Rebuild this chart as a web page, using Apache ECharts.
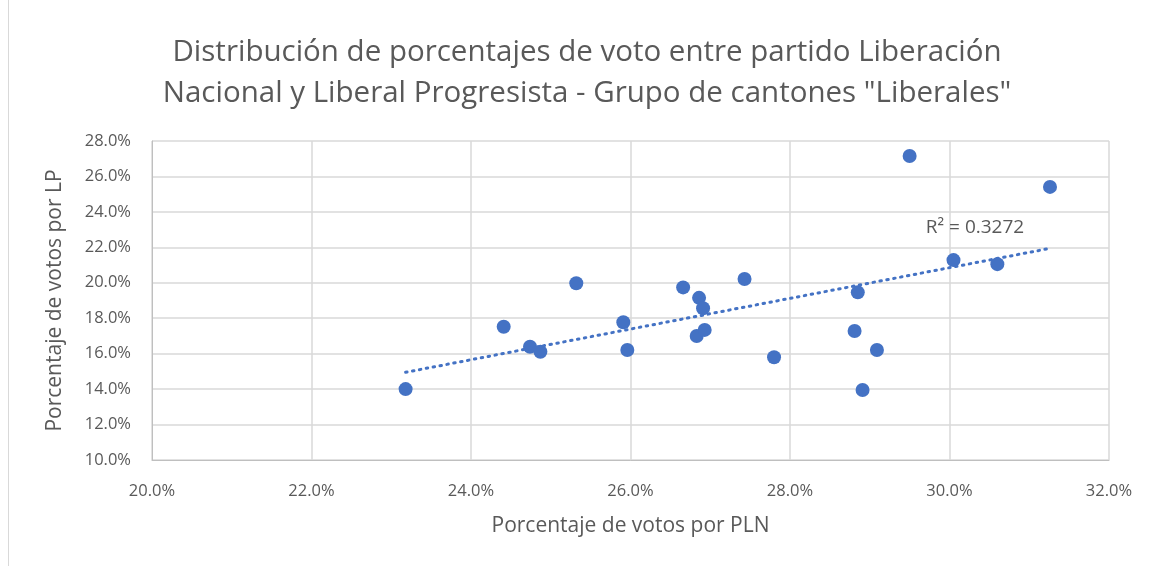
<!DOCTYPE html>
<html>
<head>
<meta charset="utf-8">
<script src="https://cdn.jsdelivr.net/npm/echarts@6/dist/echarts.min.js"></script>
<style>
  html, body { margin: 0; padding: 0; background: #fff; }
  #main { width: 1153px; height: 566px; }
</style>
</head>
<body>
<div id="main"></div>
<script>
// % de votos por PLN (x) y por LP (y), un punto por cantón
var votosPLN = [23.18, 24.41, 24.74, 24.87, 25.32, 25.91, 25.96, 26.66, 26.86, 26.91, 26.83,
  26.93, 27.43, 27.80, 29.50, 31.26, 30.05, 30.60, 28.85, 28.81, 29.09, 28.91];
var votosLP = [14.00, 17.52, 16.39, 16.11, 19.97, 17.77, 16.21, 19.74, 19.15, 18.56, 17.00,
  17.34, 20.21, 15.80, 27.15, 25.41, 21.28, 21.05, 19.46, 17.28, 16.21, 13.95];
var r2Text = 'R² = 0.3272';

var puntos = votosPLN.map(function (x, i) { return [x, votosLP[i]]; });

// tendencia lineal (minimos cuadrados)
function tendencia(xs, ys) {
  var n = xs.length, sx = 0, sy = 0, sxx = 0, sxy = 0;
  for (var i = 0; i < n; i++) {
    sx += xs[i]; sy += ys[i]; sxx += xs[i] * xs[i]; sxy += xs[i] * ys[i];
  }
  var m = (n * sxy - sx * sy) / (n * sxx - sx * sx);
  var b = (sy - m * sx) / n;
  var x0 = Math.min.apply(null, xs), x1 = Math.max.apply(null, xs);
  return [[x0, m * x0 + b], [x1, m * x1 + b]];
}
var lineaTendencia = tendencia(votosPLN, votosLP);

var fuente = '"Open Sans", "Noto Sans", sans-serif';
var gris = '#595959';

var chart = echarts.init(document.getElementById('main'));
chart.setOption({
  animation: false,
  textStyle: { fontFamily: fuente },
  title: {
    text: 'Distribución de porcentajes de voto entre partido Liberación\nNacional y Liberal Progresista - Grupo de cantones "Liberales"',
    left: 582,
    top: 27,
    textAlign: 'center',
    textStyle: { fontSize: 29.5, fontWeight: 'normal', color: gris, lineHeight: 41, fontFamily: fuente }
  },
  graphic: [{
    type: 'line',
    shape: { x1: 8.5, y1: 0, x2: 8.5, y2: 566 },
    style: { stroke: '#d9d9d9', lineWidth: 1 }
  }],
  grid: { left: 152, right: 44, top: 141, bottom: 106 },
  xAxis: {
    type: 'value',
    min: 20, max: 32, interval: 2,
    name: 'Porcentaje de votos por PLN',
    nameLocation: 'middle',
    nameGap: 56,
    nameTextStyle: { fontSize: 21, color: gris },
    axisLine: { lineStyle: { color: '#bfbfbf' } },
    axisTick: { show: false },
    axisLabel: { fontSize: 16.5, color: gris, margin: 23, formatter: function (v) { return v.toFixed(1) + '%'; } },
    splitLine: { lineStyle: { color: '#d9d9d9', width: 1.5 } }
  },
  yAxis: {
    type: 'value',
    min: 10, max: 28, interval: 2,
    name: 'Porcentaje de votos por LP',
    nameLocation: 'middle',
    nameGap: 86,
    nameTextStyle: { fontSize: 21, color: gris },
    axisLine: { show: true, lineStyle: { color: '#bfbfbf' } },
    axisTick: { show: false },
    axisLabel: { fontSize: 16.5, color: gris, margin: 21, formatter: function (v) { return v.toFixed(1) + '%'; } },
    splitLine: { lineStyle: { color: '#d9d9d9', width: 1.5 } }
  },
  series: [{
    type: 'line',
    data: lineaTendencia,
    symbol: 'none',
    silent: true,
    lineStyle: { color: '#4472C4', width: 3, type: [1.5, 5.5], cap: 'round' },
    markPoint: {
      symbol: 'rect', symbolSize: 1,
      itemStyle: { color: 'rgba(0,0,0,0)' },
      label: { show: true, formatter: r2Text, fontSize: 19, color: gris, fontFamily: fuente },
      data: [{ coord: [30.32, 23.1] }]
    }
  }, {
    type: 'scatter',
    data: puntos,
    symbolSize: 14,
    itemStyle: { color: '#4472C4', opacity: 1 }
  }]
});
</script>
</body>
</html>
